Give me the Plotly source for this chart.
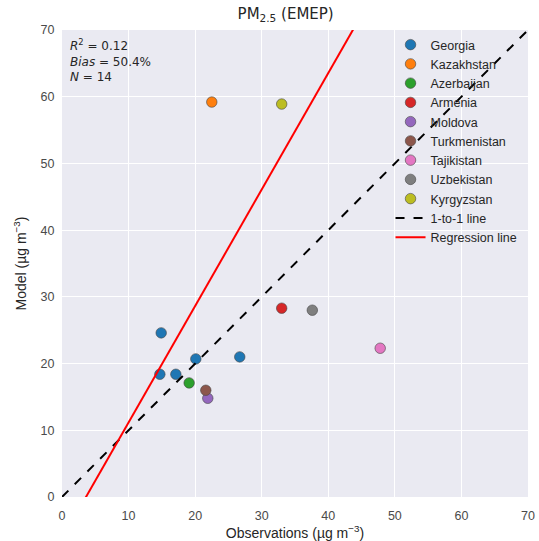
import numpy as np
import plotly.graph_objects as go

# Observed vs modelled PM2.5 by country (µg m^-3)
countries = ["Georgia", "Kazakhstan", "Azerbaijan", "Armenia", "Moldova",
             "Turkmenistan", "Tajikistan", "Uzbekistan", "Kyrgyzstan"]
obs = {
    "Georgia": [14.9, 14.7, 17.1, 20.1, 26.7],
    "Kazakhstan": [22.5],
    "Azerbaijan": [19.1],
    "Armenia": [33.0],
    "Moldova": [21.9],
    "Turkmenistan": [21.6],
    "Tajikistan": [47.8],
    "Uzbekistan": [37.6],
    "Kyrgyzstan": [33.0],
}
model = {
    "Georgia": [24.6, 18.4, 18.4, 20.7, 21.0],
    "Kazakhstan": [59.2],
    "Azerbaijan": [17.1],
    "Armenia": [28.3],
    "Moldova": [14.8],
    "Turkmenistan": [16.0],
    "Tajikistan": [22.3],
    "Uzbekistan": [28.0],
    "Kyrgyzstan": [58.9],
}
colors = ["#1f77b4", "#ff7f0e", "#2ca02c", "#d62728", "#9467bd",
          "#8c564b", "#e377c2", "#7f7f7f", "#bcbd22"]

# Regression line parameters
reg_slope = 1.746
reg_intercept = -6.29
stats_text = "<i>R</i><sup>2</sup> = 0.12<br><i>Bias</i> = 50.4%<br><i>N</i> = 14"

axis_max = 70
ticks = [0, 10, 20, 30, 40, 50, 60, 70]

fig = go.Figure()

for c, col in zip(countries, colors):
    fig.add_trace(go.Scatter(
        x=obs[c], y=model[c], mode="markers", name=c,
        marker=dict(size=10.5, color=col, line=dict(color="#444444", width=0.6)),
    ))

line_x = np.array([0, axis_max], dtype=float)
fig.add_trace(go.Scatter(
    x=line_x, y=line_x, mode="lines", name="1-to-1 line",
    line=dict(color="black", width=2, dash="dash"),
))
fig.add_trace(go.Scatter(
    x=line_x, y=reg_slope * line_x + reg_intercept, mode="lines",
    name="Regression line", line=dict(color="red", width=2),
))

sans = "Liberation Sans, Arial, sans-serif"
axis_common = dict(
    range=[0, axis_max], tickvals=ticks, showgrid=True, gridcolor="white",
    gridwidth=1, zeroline=False, showline=False, automargin=False,
    ticks="outside", tickcolor="rgba(0,0,0,0)",
    tickfont=dict(family=sans, size=12.5, color="#4a4a4a"),
    title_font=dict(family=sans, size=14, color="#262626"),
)

fig.update_layout(
    width=539, height=541,
    margin=dict(l=62, r=11, t=30, b=44),
    paper_bgcolor="white", plot_bgcolor="#EAEAF2",
    title=dict(text="PM<sub>2.5</sub> (EMEP)", x=0.53, xanchor="center",
               y=0.984, yanchor="top",
               font=dict(family="DejaVu Sans, sans-serif", size=15, color="#262626")),
    xaxis=dict(axis_common, ticklen=7,
               title=dict(text="Observations (µg m<sup>−3</sup>)", standoff=3)),
    yaxis=dict(axis_common, ticklen=4,
               title=dict(text="Model (µg m<sup>−3</sup>)", standoff=10)),
    legend=dict(x=0.705, y=1.0, xanchor="left", yanchor="top",
                bgcolor="rgba(0,0,0,0)", tracegroupgap=0,
                font=dict(family=sans, size=12.5, color="#262626")),
    showlegend=True,
    annotations=[dict(
        text=stats_text, xref="paper", yref="paper", x=0.012, y=0.99,
        xanchor="left", yanchor="top", showarrow=False, align="left",
        font=dict(family="DejaVu Sans, sans-serif", size=12, color="#262626"),
    )],
)

fig.write_html("out.html")
